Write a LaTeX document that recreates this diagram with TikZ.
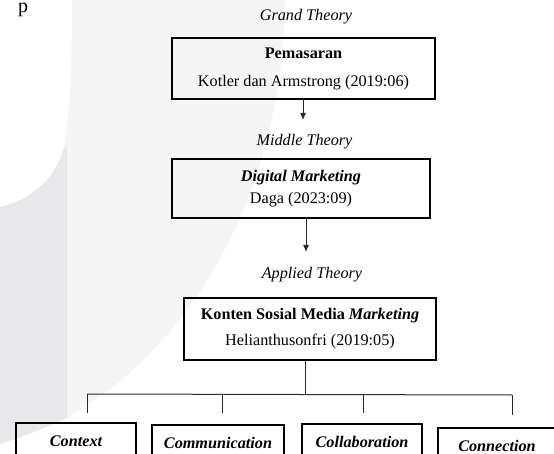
\documentclass[tikz,border=0pt]{standalone}
\usepackage{fontspec}
\setmainfont{Liberation Serif}
\usetikzlibrary{arrows.meta}
\definecolor{wmlight}{HTML}{F5F5F6}
\definecolor{wmdark}{HTML}{E8E8EA}
\definecolor{linegray}{HTML}{2A2A2A}
\begin{document}
\begin{tikzpicture}[x=1pt,y=-1pt,
  every node/.style={inner sep=0pt, outer sep=0pt},
  theorybox/.style={draw=black, line width=1.2pt, rectangle, align=center},
  leafbox/.style={draw=black, line width=1.2pt, rectangle, minimum height=36pt,
     font=\fontsize{16.2}{18}\selectfont\bfseries\itshape},
  levellabel/.style={font=\fontsize{16.2}{18}\selectfont\itshape},
  conn/.style={draw=linegray, line width=1pt},
  arr/.style={conn, -{Latex[length=7pt,width=6pt]}}
]
\useasboundingbox (0,0) rectangle (554,454);
\clip (0,0) rectangle (554,454);
% watermark
\fill[wmlight] (72,0) .. controls (72,70) and (70,120) .. (63,150)
  .. controls (55,180) and (30,200) .. (0,207) -- (0,444)
  .. controls (25,436) and (50,426) .. (67,418)
  .. controls (170,360) and (282,220) .. (285,0) -- cycle;
\fill[wmdark] (67,146) -- (67,418) .. controls (50,426) and (25,436) .. (0,444)
  -- (0,207) .. controls (30,200) and (55,180) .. (63,150) -- cycle;
% fragment of text at top-left
\node[font=\fontsize{20}{20}\selectfont, anchor=north] (pfrag) at (23,3) {p};

% level labels
\node[levellabel] (grand) at (306,17) {Grand Theory};
\node[levellabel] (middle) at (304.5,142) {Middle Theory};
\node[levellabel] (applied) at (312,275) {Applied Theory};

% theory boxes
\node[theorybox, minimum width=263pt, minimum height=61pt,
  font=\fontsize{16.2}{28}\selectfont] (b1) at (303.5,68.5)
  {\textbf{Pemasaran}\\Kotler dan Armstrong (2019:06)};
\node[theorybox, minimum width=258pt, minimum height=59pt,
  font=\fontsize{16.2}{22}\selectfont] (b2) at (301,188.5)
  {\textbf{\textit{Digital Marketing}}\\Daga (2023:09)};
\node[theorybox, minimum width=252pt, minimum height=62pt,
  font=\fontsize{16.2}{26}\selectfont] (b3) at (310,329)
  {\textbf{Konten Sosial Media \textit{Marketing}}\\Helianthusonfri (2019:05)};

% arrows
\coordinate (a1end) at (303,120);
\coordinate (a2end) at (306,252);
\draw[arr] (b1.south -| a1end) -- (a1end);
\draw[arr] (b2.south -| a2end) -- (a2end);

% bracket
\coordinate (hub) at (305,394);
\coordinate (d1top) at (87,394);
\coordinate (d2top) at (222,394);
\coordinate (d3top) at (363,394);
\coordinate (d4top) at (512,395);
\coordinate (d1end) at (87,413);
\coordinate (d2end) at (222,413);
\coordinate (d3end) at (363,413);
\coordinate (d4end) at (512,415);
\draw[conn] (b3.south -| hub) -- (hub);
\draw[conn] (d1top) -- (d4top);
\draw[conn] (d1top) -- (d1end);
\draw[conn] (d2top) -- (d2end);
\draw[conn] (d3top) -- (d3end);
\draw[conn] (d4top) -- (d4end);

% leaf boxes (cut by the lower edge)
\node[leafbox, minimum width=120pt] (context) at (76,441) {Context};
\node[leafbox, minimum width=132pt] (communication) at (218,443) {Communication};
\node[leafbox, minimum width=120pt] (collaboration) at (362,442) {Collaboration};
\node[leafbox, minimum width=118pt] (connection) at (497,446) {Connection};
\end{tikzpicture}
\end{document}
